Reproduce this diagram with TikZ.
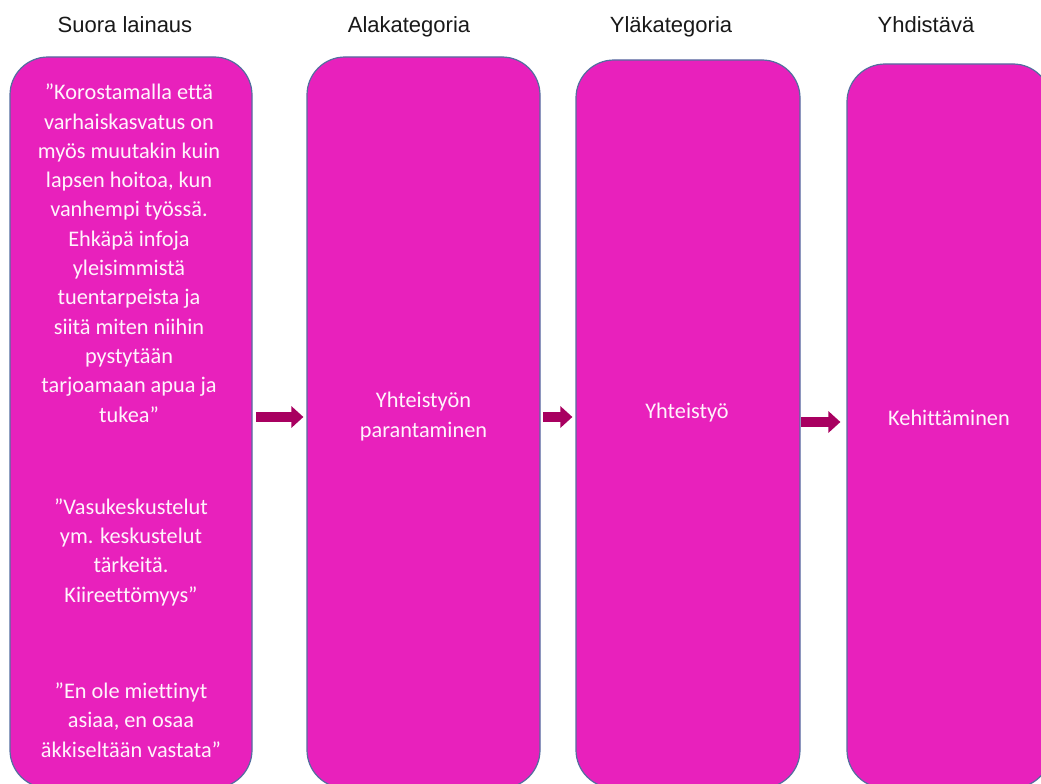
\documentclass[tikz,border=0pt]{standalone}
\usepackage{fontspec}
\setmainfont{Liberation Sans}
\newfontfamily\boxfont[Ligatures=NoCommon]{Carlito}
\usetikzlibrary{arrows.meta}
\definecolor{boxfill}{RGB}{232,33,188}
\definecolor{boxline}{RGB}{84,110,160}
\definecolor{arrowcol}{RGB}{168,0,96}
\definecolor{headcol}{RGB}{25,25,25}
\definecolor{boxtextcol}{RGB}{255,244,252}
\begin{document}
\begin{tikzpicture}[x=1pt,y=-1pt,
  box/.style={draw=boxline, line width=1.2pt, fill=boxfill, rounded corners=38pt, inner sep=0pt},
  header/.style={font=\fontsize{22}{26}\selectfont, text=headcol, anchor=base, inner sep=0pt},
  boxtext/.style={font=\boxfont\fontsize{22.3}{29.3}\selectfont, text=boxtextcol, align=center, anchor=base, inner sep=0pt},
  blockarrow/.style={draw=arrowcol, line width=10pt, -{Triangle[length=12pt,width=21pt]}}]
\useasboundingbox (0,0) rectangle (1041,784);
\clip (0,0) rectangle (1041,784);
\fill[white] (0,0) rectangle (1041,784);

% headers
\node[header] (h1) at (125,33) {Suora lainaus};
\node[header] (h2) at (409,33) {Alakategoria};
\node[header] (h3) at (671,33) {Yläkategoria};
\node[header] (h4) at (926,33) {Yhdistävä};

% boxes
\node[box, minimum width=242pt, minimum height=731pt] (b1) at (131,422.5) {};
\node[box, minimum width=233pt, minimum height=731pt] (b2) at (423.5,422.5) {};
\node[box, minimum width=224pt, minimum height=728pt] (b3) at (688,424) {};
\node[box, minimum width=204pt, minimum height=724pt] (b4) at (949,426) {};

% box texts (anchor = baseline of the last line)
\node[boxtext] (q1) at (129,422) {”Korostamalla että\\varhaiskasvatus on\\myös muutakin kuin\\lapsen hoitoa, kun\\vanhempi työssä.\\Ehkäpä infoja\\yleisimmistä\\tuentarpeista ja\\siitä miten niihin\\pystytään\\tarjoamaan apua ja\\tukea”};
\node[boxtext] (q2) at (131,602) {”Vasukeskustelut\\ym. keskustelut\\tärkeitä.\\Kiireettömyys”};
\node[boxtext] (q3) at (131,757) {”En ole miettinyt\\asiaa, en osaa\\äkkiseltään vastata”};
\node[boxtext] (t2) at (423.5,437) {Yhteistyön\\parantaminen};
\node[boxtext] (t3) at (687,418) {Yhteistyö};
\node[boxtext] (t4) at (949,425) {Kehittäminen};

% arrows
\coordinate (r1) at (0,417);
\coordinate (r2) at (0,417);
\coordinate (r3) at (0,422);
\draw[blockarrow, shorten <=3.5pt, shorten >=3pt] (b1.east |- r1) -- (b2.west |- r1);
\draw[blockarrow, shorten <=2.5pt, shorten >=3pt] (b2.east |- r2) -- (b3.west |- r2);
\draw[blockarrow, shorten <=0.5pt, shorten >=6pt] (b3.east |- r3) -- (b4.west |- r3);
\end{tikzpicture}
\end{document}
